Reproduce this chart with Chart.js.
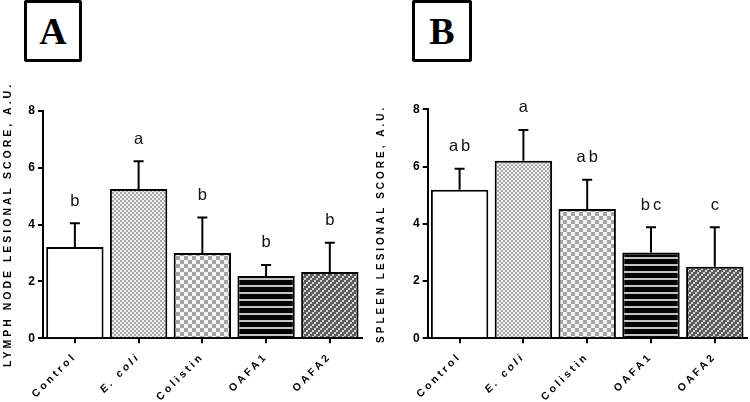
<!DOCTYPE html>
<html>
<head>
<meta charset="utf-8">
<script src="https://cdn.jsdelivr.net/npm/chart.js@4.4.1/dist/chart.umd.min.js"></script>
<style>
  html, body { margin: 0; padding: 0; background: #fff; }
  body { width: 750px; height: 402px; position: relative; overflow: hidden; }
  .panel { position: absolute; top: 0; width: 375px; height: 402px; }
  #panelA { left: 0; }
  #panelB { left: 375px; }
  .tag {
    position: absolute; top: 0; height: 56px; border: 3px solid #000; border-radius: 2px;
    font: bold 38px 'Liberation Serif', 'DejaVu Serif', serif; color: #000;
    display: flex; align-items: center; justify-content: center; background: #fff; z-index: 2;
  }
  #tagA { left: 24px; width: 52px; }
  #tagB { left: 412px; width: 54px; }
</style>
</head>
<body>
<div id="tagA" class="tag">A</div>
<div id="tagB" class="tag">B</div>
<div id="panelA" class="panel"><canvas id="chartA"></canvas></div>
<div id="panelB" class="panel"><canvas id="chartB"></canvas></div>

<script>
/* ─── Data ──────────────────────────────────────── */
const groups        = ['Control', 'E. coli', 'Colistin', 'OAFA1', 'OAFA2'];
const yTicks        = [0, 2, 4, 6, 8];

const lymphMean     = [3.21, 5.25, 3.0, 2.19, 2.33];
const lymphSd       = [0.83, 0.97, 1.25, 0.39, 1.03];
const lymphLetters  = ['b', 'a', 'b', 'b', 'b'];

const spleenMean    = [5.19, 6.2, 4.52, 3.0, 2.5];
const spleenSd      = [0.73, 1.08, 1.02, 0.88, 1.38];
const spleenLetters = ['ab', 'a', 'ab', 'bc', 'c'];

/* ─── Fill patterns ─────────────────────────────── */
function tile(w, h, paint) {
  const c = document.createElement('canvas');
  c.width = w; c.height = h;
  paint(c.getContext('2d'));
  return c.getContext('2d').createPattern(c, 'repeat');
}

function checker(cell, dark, light) {
  return tile(cell * 2, cell * 2, g => {
    g.fillStyle = light; g.fillRect(0, 0, cell * 2, cell * 2);
    g.fillStyle = dark;
    g.fillRect(0, 0, cell, cell);
    g.fillRect(cell, cell, cell, cell);
  });
}

const fills = [
  '#ffffff',
  checker(2, '#a8a8a8', '#f2f2f2'),
  checker(4, '#a4a4a4', '#f4f4f4'),
  tile(4, 7, g => {
    g.fillStyle = '#050505'; g.fillRect(0, 0, 4, 7);
    g.fillStyle = '#c4c4c4'; g.fillRect(0, 5, 4, 2);
  }),
  tile(6, 6, g => {
    for (let i = 0; i < 3; i++) {
      for (let j = 0; j < 3; j++) {
        g.fillStyle = (i + j) % 3 === 0 ? '#d6d6d6' : '#5c5c5c';
        g.fillRect(i * 2, j * 2, 2, 2);
      }
    }
  })
];

/* ─── Error bars + significance letters ─────────── */
const errorBars = {
  id: 'errorBars',
  beforeDraw(chart) {
    chart.ctx.letterSpacing = '3px';
  },
  afterDatasetsDraw(chart, args, opts) {
    const { ctx } = chart;
    const y    = chart.scales.y;
    const meta = chart.getDatasetMeta(0);
    ctx.save();
    ctx.strokeStyle = '#000';
    ctx.lineWidth   = 2;
    meta.data.forEach((bar, i) => {
      const top = y.getPixelForValue(opts.mean[i] + opts.sd[i]);
      ctx.beginPath();
      ctx.moveTo(bar.x, bar.y);
      ctx.lineTo(bar.x, top);
      ctx.moveTo(bar.x - 5, top);
      ctx.lineTo(bar.x + 5, top);
      ctx.stroke();

      ctx.fillStyle     = '#111';
      ctx.font          = "16.5px 'Liberation Sans', Arial, sans-serif";
      ctx.letterSpacing = '3px';
      ctx.textAlign     = 'center';
      ctx.textBaseline  = 'middle';
      ctx.fillText(opts.letters[i], bar.x + 1.5, top - 22);
    });
    ctx.restore();
  }
};

/* ─── Panel builder ─────────────────────────────── */
function makePanel(id, mean, sd, letters, title, box) {
  const ctx = document.getElementById(id).getContext('2d');

  return new Chart(ctx, {
    type: 'bar',
    data: {
      labels: groups,
      datasets: [{
        data:               mean,
        backgroundColor:    fills,
        borderColor:        '#000',
        borderWidth:        2,
        borderSkipped:      'bottom',
        barPercentage:      0.9,
        categoryPercentage: 1
      }]
    },
    options: {
      responsive:          true,
      maintainAspectRatio: false,
      animation:           false,
      layout: { padding: { top: box.top, right: box.right, left: 0, bottom: 0 } },
      plugins: {
        legend:    { display: false },
        tooltip:   { enabled: false },
        errorBars: { mean, sd, letters }
      },
      scales: {
        x: {
          afterFit: s => { s.height = box.xHeight; },
          border: { display: true, color: '#000', width: 2 },
          grid:   { offset: false, drawOnChartArea: false, drawTicks: true, tickLength: 5, color: '#000', lineWidth: 2 },
          ticks: {
            color:       '#000',
            minRotation: 45,
            maxRotation: 45,
            padding:     7,
            font: c => ({
              family: "'Liberation Sans', Arial, sans-serif",
              size:   10.5,
              weight: 'bold',
              style:  groups[c.index] === 'E. coli' ? 'italic' : 'normal'
            })
          }
        },
        y: {
          min: 0,
          max: 8,
          afterFit: s => { s.width = box.yWidth; },
          afterBuildTicks: s => { s.ticks = yTicks.map(v => ({ value: v })); },
          border: { display: true, color: '#000', width: 2 },
          grid:   { drawOnChartArea: false, drawTicks: true, tickLength: 5, color: '#000', lineWidth: 2 },
          ticks: {
            color:   '#000',
            padding: 0,
            font:    { family: "'Liberation Sans', Arial, sans-serif", size: 12, weight: 'bold' }
          },
          title: {
            display: true,
            text:    title,
            color:   '#000',
            padding: { top: box.titlePad, bottom: 0 },
            font:    { family: "'Liberation Sans', Arial, sans-serif", size: box.titleSize, weight: 'bold' }
          }
        }
      }
    },
    plugins: [errorBars]
  });
}

makePanel('chartA', lymphMean, lymphSd, lymphLetters, 'LYMPH NODE LESIONAL SCORE, A.U.',
  { top: 110.7, right: 13.3, xHeight: 63.7, yWidth: 43, titlePad: 2, titleSize: 10.5 });
makePanel('chartB', spleenMean, spleenSd, spleenLetters, 'SPLEEN LESIONAL SCORE, A.U.',
  { top: 109.3, right: 3.3, xHeight: 63.7, yWidth: 52.7, titlePad: 0, titleSize: 10 });
</script>
</body>
</html>
